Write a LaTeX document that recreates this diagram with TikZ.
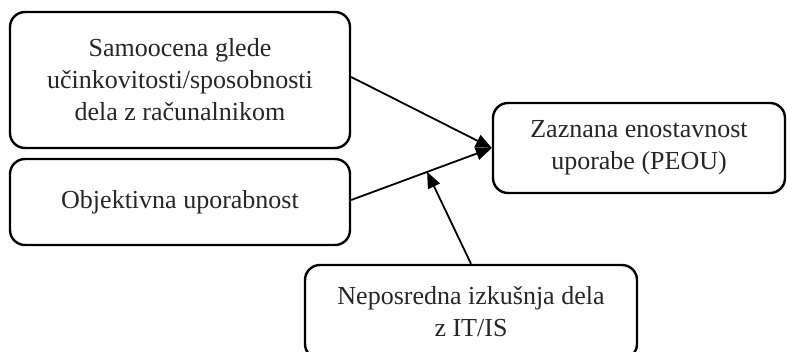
\documentclass[tikz,border=0pt]{standalone}
\usepackage{fontspec}
\setmainfont{Liberation Serif}
\usetikzlibrary{arrows.meta}
\begin{document}
\begin{tikzpicture}[x=1pt,y=-1pt,
  box/.style={draw, line width=2.4pt, rounded corners=15pt, align=center,
    inner sep=0pt, font=\fontsize{26}{32}\selectfont, text=black!85},
  link/.style={line width=1.8pt, -{Triangle[length=16pt,width=13pt]}}]
\useasboundingbox (0,0) rectangle (787,352);
% factor boxes
\node[box, minimum width=340pt, minimum height=136pt] (self) at (180,80)
  {Samoocena glede\\u\v{c}inkovitosti/sposobnosti\\dela z ra\v{c}unalnikom};
\node[box, minimum width=340pt, minimum height=86pt] (obj) at (180,202)
  {Objektivna uporabnost};
\node[box, minimum width=292pt, minimum height=90pt] (peou) at (639,148)
  {Zaznana enostavnost\\uporabe (PEOU)};
\node[box, minimum width=332pt, minimum height=94pt] (exp) at (471,312)
  {Neposredna izku\v{s}nja dela\\z IT/IS};
% connectors
\draw[link] ([yshift=3pt]self.east) -- (peou.west);
\draw[link] ([yshift=2pt]obj.east) -- (peou.west) coordinate[pos=0.54] (mid);
\draw[link] (exp.north) -- (mid);
\end{tikzpicture}
\end{document}
